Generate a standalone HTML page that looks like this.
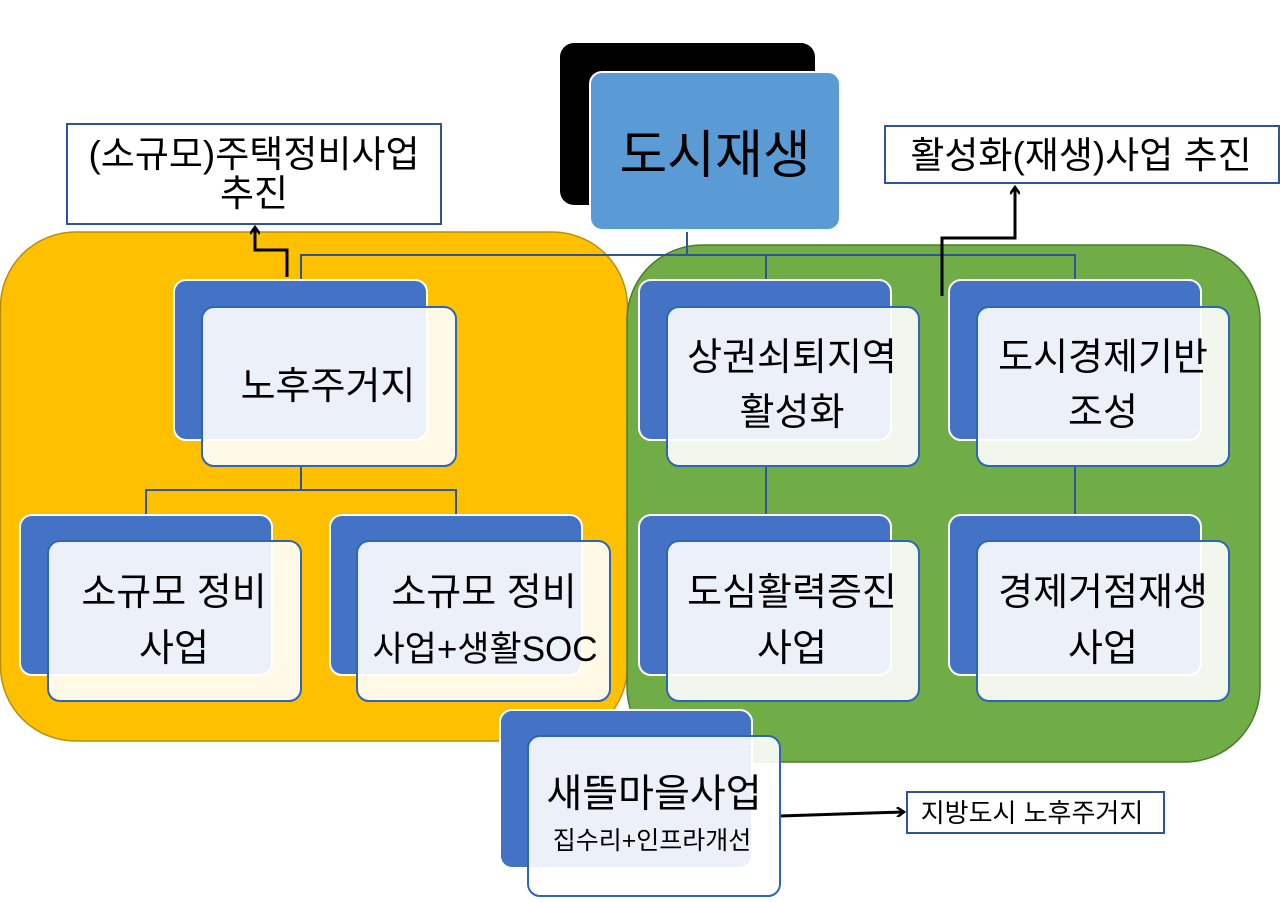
<!DOCTYPE html>
<html><head><meta charset="utf-8"><style>
html,body{margin:0;padding:0;background:#fff;}
svg text{font-family:"Liberation Sans","Noto Sans CJK KR",sans-serif;fill:#000;}
</style></head><body>
<svg width="1280" height="898" viewBox="0 0 1280 898" xmlns="http://www.w3.org/2000/svg">
<defs>
<marker id="ah" markerWidth="10" markerHeight="10" refX="7" refY="5" orient="auto" markerUnits="userSpaceOnUse"><path d="M1,0 L8,5 L1,10" fill="none" stroke="#000" stroke-width="2.5"/></marker>
</defs>
<rect x="0.5" y="232" width="627" height="509" rx="75" fill="#FFC000" stroke="#B8900A" stroke-width="1.5"/>
<rect x="627" y="245" width="633" height="517" rx="75" fill="#70AD47" stroke="#4E7A31" stroke-width="1.5"/>

<rect x="560" y="43" width="255" height="162" rx="14" fill="#000"/>
<rect x="590" y="72" width="250" height="158" rx="12" fill="#5B9BD5" stroke="#fff" stroke-width="2"/>
<text x="715" y="173" font-size="52" text-anchor="middle">도시재생</text>

<rect x="67" y="124" width="374" height="100" fill="#fff" stroke="#2F5597" stroke-width="2"/>
<text x="254" y="167" font-size="37" text-anchor="middle">(소규모)주택정비사업</text>
<text x="254" y="206" font-size="37" text-anchor="middle">추진</text>
<rect x="885" y="126" width="394" height="57" fill="#fff" stroke="#2F5597" stroke-width="2"/>
<text x="1081" y="168" font-size="37" text-anchor="middle">활성화(재생)사업 추진</text>

<g stroke="#2F5597" stroke-width="2" fill="none">
<path d="M687,232 V255 M301,280 V255 H1075 V280 M766,255 V280"/>
<path d="M301,466 V490 M146,515 V490 H456 V515"/>
<path d="M766,466 V515 M1075,466 V515"/>
</g>

<g stroke="#000" stroke-width="3" fill="none">
<path d="M287,277 V250 H255 V228" marker-end="url(#ah)"/>
<path d="M942,296 V238 H1015 V188" marker-end="url(#ah)"/>
<path d="M780,816 L903,812" marker-end="url(#ah)"/>
</g>

<g stroke="#fff" stroke-width="2" fill="#4472C4">
<rect x="174" y="280" width="253" height="160" rx="12"/>
<rect x="20" y="515" width="252" height="160" rx="12"/>
<rect x="330" y="515" width="252" height="160" rx="12"/>
<rect x="639" y="280" width="252" height="160" rx="12"/>
<rect x="949" y="280" width="252" height="160" rx="12"/>
<rect x="639" y="515" width="252" height="160" rx="12"/>
<rect x="949" y="515" width="252" height="160" rx="12"/>
<rect x="500" y="710" width="252" height="158" rx="12"/>
</g>
<g stroke="#2F65B5" stroke-width="2" fill="rgba(255,255,255,0.9)">
<rect x="202" y="307" width="254" height="159" rx="12"/>
<rect x="48" y="541" width="253" height="160" rx="12"/>
<rect x="357" y="541" width="253" height="160" rx="12"/>
<rect x="667" y="307" width="252" height="159" rx="12"/>
<rect x="977" y="307" width="252" height="159" rx="12"/>
<rect x="667" y="541" width="252" height="160" rx="12"/>
<rect x="977" y="541" width="252" height="160" rx="12"/>
<rect x="528" y="736" width="252" height="160" rx="12"/>
</g>

<g font-size="38" text-anchor="middle">
<text x="328" y="399">노후주거지</text>
<text x="174" y="605">소규모 정비</text>
<text x="174" y="661">사업</text>
<text x="484" y="605">소규모 정비</text>
<text x="485" y="661" font-size="35">사업+생활SOC</text>
<text x="792" y="370">상권쇠퇴지역</text>
<text x="792" y="425">활성화</text>
<text x="1103" y="370">도시경제기반</text>
<text x="1103" y="425">조성</text>
<text x="792" y="605">도심활력증진</text>
<text x="792" y="661">사업</text>
<text x="1103" y="605">경제거점재생</text>
<text x="1103" y="661">사업</text>
<text x="654" y="807" font-size="39">새뜰마을사업</text>
</g>
<text x="652" y="849" font-size="25" text-anchor="middle">집수리+인프라개선</text>

<rect x="907" y="792" width="257" height="41" fill="#fff" stroke="#2F5597" stroke-width="2"/>
<text x="1032" y="822" font-size="26" text-anchor="middle">지방도시 노후주거지</text>
</svg>
</body></html>
